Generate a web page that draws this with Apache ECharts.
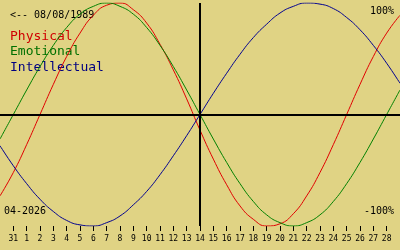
<!DOCTYPE html>
<html><head><meta charset="utf-8">
<script src="https://cdn.jsdelivr.net/npm/echarts@6/dist/echarts.min.js"></script>
<style>html,body{margin:0;padding:0;background:#e0d384}#c{width:400px;height:250px}</style>
</head><body><div id="c"></div>
<script>
// Day labels (index 0 and last are padding days, unlabeled)
const days = ['', '31', '1', '2', '3', '4', '5', '6', '7', '8', '9', '10', '11', '12', '13', '14',
  '15', '16', '17', '18', '19', '20', '21', '22', '23', '24', '25', '26', '27', '28', ''];
// values, one per day (-1..29 => 30 Mar .. 29 Apr)
const physical = [-0.73, -0.52, -0.27, 0, 0.27, 0.52, 0.73, 0.89, 0.98, 1.00, 0.94, 0.82, 0.63, 0.40, 0.14,
  -0.14, -0.40, -0.63, -0.82, -0.94, -1.00, -0.98, -0.89, -0.73, -0.52, -0.27, 0, 0.27, 0.52, 0.73, 0.89];
const emotional = [-0.22, 0, 0.22, 0.43, 0.62, 0.78, 0.90, 0.97, 1.00, 0.97, 0.90, 0.78, 0.62, 0.43, 0.22,
  0, -0.22, -0.43, -0.62, -0.78, -0.90, -0.97, -1.00, -0.97, -0.90, -0.78, -0.62, -0.43, -0.22, 0, 0.22];
const intellectual = [-0.28, -0.46, -0.62, -0.76, -0.87, -0.95, -0.99, -1.00, -0.97, -0.91, -0.81, -0.69, -0.54, -0.37, -0.19,
  0, 0.19, 0.37, 0.54, 0.69, 0.81, 0.91, 0.97, 1.00, 0.99, 0.95, 0.87, 0.76, 0.62, 0.46, 0.28];
const birthLabel = '<-- 08/08/1989';
const monthLabel = '04-2026';
const todayLabel = '14';

const chart = echarts.init(document.getElementById('c'), null, {renderer: 'canvas'});
const mono = 'DejaVu Sans Mono, Liberation Mono, monospace';
chart.setOption({
  backgroundColor: '#e0d384',
  animation: false,
  grid: {left: 0, right: 0, top: 3, bottom: 24, outerBoundsMode: 'none'},
  xAxis: {
    type: 'category', data: days, boundaryGap: false,
    axisLine: {show: false, onZero: false},
    axisTick: {show: true, length: 5, interval: (i) => i > 0 && i < days.length - 1, lineStyle: {color: '#000', width: 1}},
    axisLabel: {color: '#000', fontFamily: mono, fontSize: 8, margin: 9, interval: 0},
    splitLine: {show: false}
  },
  yAxis: {type: 'value', min: -1, max: 1, show: false},
  graphic: [
    {type: 'text', left: 10, top: 10, style: {text: birthLabel, fill: '#000', font: '10px ' + mono}},
    {type: 'text', left: 10, top: 30, style: {text: 'Physical', fill: '#d00000', font: '13px ' + mono}},
    {type: 'text', left: 10, top: 45, style: {text: 'Emotional', fill: '#007000', font: '13px ' + mono}},
    {type: 'text', left: 10, top: 61, style: {text: 'Intellectual', fill: '#000080', font: '13px ' + mono}},
    {type: 'text', right: 6, top: 6, style: {text: '100%', fill: '#000', font: '10px ' + mono}},
    {type: 'text', right: 6, top: 206, style: {text: '-100%', fill: '#000', font: '10px ' + mono}},
    {type: 'text', left: 4, top: 206, style: {text: monthLabel, fill: '#000', font: '10px ' + mono}}
  ],
  series: [
    {type: 'line', data: physical, smooth: true, showSymbol: false, lineStyle: {color: '#e00000', width: 1}, z: 3},
    {type: 'line', data: emotional, smooth: true, showSymbol: false, lineStyle: {color: '#008000', width: 1}, z: 3},
    {type: 'line', data: intellectual, smooth: true, showSymbol: false, lineStyle: {color: '#000090', width: 1}, z: 3,
      markLine: {silent: true, symbol: 'none', label: {show: false}, animation: false,
        lineStyle: {color: '#000', width: 2, type: 'solid'},
        data: [{yAxis: 0}, {xAxis: todayLabel}]}}
  ]
});
</script></body></html>
